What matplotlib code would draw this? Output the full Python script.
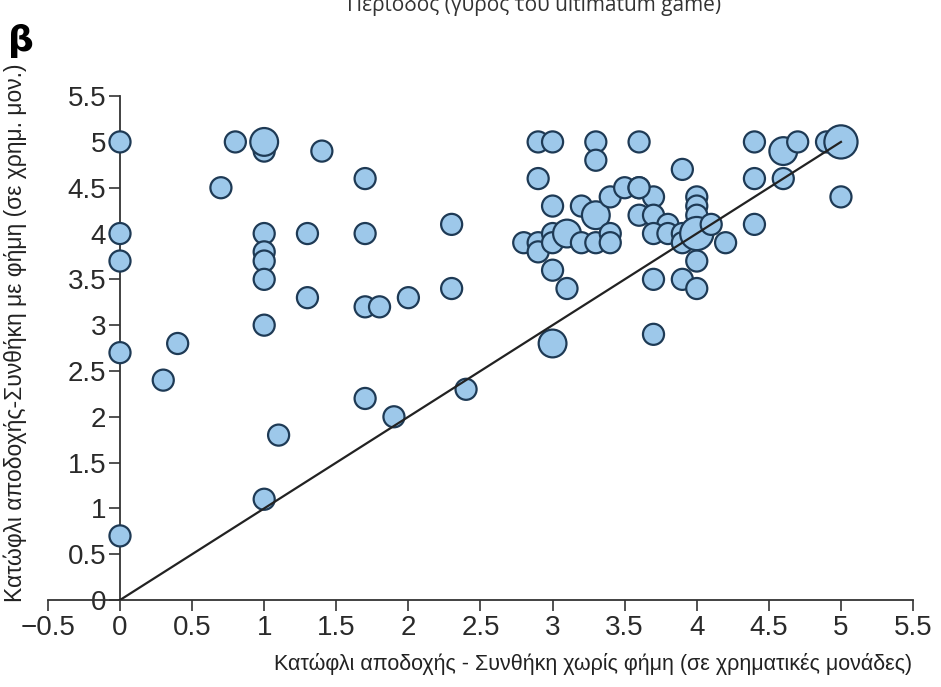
import matplotlib
matplotlib.use("Agg")
import matplotlib.pyplot as plt
import numpy as np

# threshold without reputation (x) vs with reputation (y); n = overlapping subjects
x_no_rep = [0, 0, 0, 0, 0, 0.3, 0.4, 0.7, 0.8, 1.0, 1.0, 1.4,
            1.0, 1.0, 1.0, 1.0, 1.0, 1.0, 1.1, 1.3, 1.3,
            1.7, 1.7, 1.7, 1.8, 1.7, 1.9, 2.0, 2.3, 2.3, 2.4,
            2.9, 3.0, 3.3, 3.3, 3.6, 2.9, 3.0, 3.2, 3.3, 3.4, 3.5, 3.6, 3.7,
            3.6, 3.7, 3.8, 3.7, 3.8, 2.8, 2.9, 2.9, 3.0, 3.0, 3.1, 3.2, 3.3,
            3.4, 3.4, 3.0, 3.1, 3.7, 3.0, 3.7, 3.9, 4.0, 4.0,
            4.4, 4.6, 4.7, 4.9, 5.0, 5.0, 3.9, 4.4, 4.6, 4.4,
            4.0, 4.0, 4.0, 3.9, 3.9, 4.0, 4.1, 4.2, 3.6]
y_rep = [5.0, 4.0, 3.7, 2.7, 0.7, 2.4, 2.8, 4.5, 5.0, 4.9, 5.0, 4.9,
         4.0, 3.8, 3.7, 3.5, 3.0, 1.1, 1.8, 4.0, 3.3,
         4.6, 4.0, 3.2, 3.2, 2.2, 2.0, 3.3, 4.1, 3.4, 2.3,
         5.0, 5.0, 5.0, 4.8, 5.0, 4.6, 4.3, 4.3, 4.2, 4.4, 4.5, 4.5, 4.4,
         4.2, 4.2, 4.1, 4.0, 4.0, 3.9, 3.9, 3.8, 4.0, 3.9, 4.0, 3.9, 3.9,
         4.0, 3.9, 3.6, 3.4, 3.5, 2.8, 2.9, 3.5, 3.4, 3.7,
         5.0, 4.9, 5.0, 5.0, 5.0, 4.4, 4.7, 4.6, 4.6, 4.1,
         4.4, 4.3, 4.2, 4.0, 3.9, 4.0, 4.1, 3.9, 4.5]
n_subj = [1, 1, 1, 1, 1, 1, 1, 1, 1, 1, 2, 1,
          1, 1, 1, 1, 1, 1, 1, 1, 1,
          1, 1, 1, 1, 1, 1, 1, 1, 1, 1,
          1, 1, 1, 1, 1, 1, 1, 1, 2, 1, 1, 1, 1,
          1, 1, 1, 1, 1, 1, 1, 1, 1, 1, 2, 1, 1,
          1, 1, 1, 1, 1, 2, 1, 1, 1, 1,
          1, 2, 1, 1, 3, 1, 1, 1, 1, 1,
          1, 1, 1, 1, 1, 3, 1, 1, 1]

x_ticks = np.arange(-0.5, 5.51, 0.5)
y_ticks = np.arange(0, 5.51, 0.5)

fig = plt.figure(figsize=(9.41, 6.87), dpi=100)
ax = fig.add_axes([0.0509, 0.1266, 0.9194, 0.7335])

sizes = [230 + 170 * (k - 1) for k in n_subj]
ax.scatter(x_no_rep, y_rep, s=sizes, facecolor="#9dc8ea", edgecolor="#1e3a55",
           linewidth=1.6, zorder=3, clip_on=False)
ax.plot([0, 5], [0, 5], color="#222222", lw=1.6, zorder=4)

ax.set_xlim(-0.5, 5.5)
ax.set_ylim(0, 5.5)
for s in ("top", "right"):
    ax.spines[s].set_visible(False)
ax.spines["left"].set_position(("data", 0))
for s in ("left", "bottom"):
    ax.spines[s].set_color("#333333")
    ax.spines[s].set_linewidth(1.3)

ax.set_xticks(x_ticks)
ax.set_xticklabels([f"{v:g}".replace("-", "\u2212") for v in x_ticks],
                   family="Liberation Sans", fontsize=20)
ax.set_yticks(y_ticks)
ax.set_yticklabels([f"{v:g}" for v in y_ticks], family="Liberation Sans", fontsize=20)
ax.tick_params(axis="both", direction="out", length=8, width=1.2, color="#333333",
               labelcolor="#2a2a2a")
ax.tick_params(axis="x", pad=3)
ax.tick_params(axis="y", pad=2)

fig.text(0.969, 0.018,
         "Κατώφλι αποδοχής - Συνθήκη χωρίς φήμη (σε χρηματικές μονάδες)",
         ha="right", va="bottom", fontsize=15.5, color="#222222",
         family="Liberation Sans")
fig.text(0.016, 0.515, "Κατώφλι αποδοχής-Συνθήκη με φήμη (σε χρημ. μον.)",
         rotation=90, ha="center", va="center", fontsize=16.5, color="#222222",
         family="Liberation Sans")
fig.text(0.022, 0.94, "β", fontsize=26, fontweight="bold", ha="center", va="center",
         family="DejaVu Sans")
fig.text(0.568, 0.993, "Περίοδος (γύρος του ultimatum game)", fontsize=15,
         ha="center", va="center", color="#333333", family="Open Sans")

fig.savefig("out.png", dpi=100)
